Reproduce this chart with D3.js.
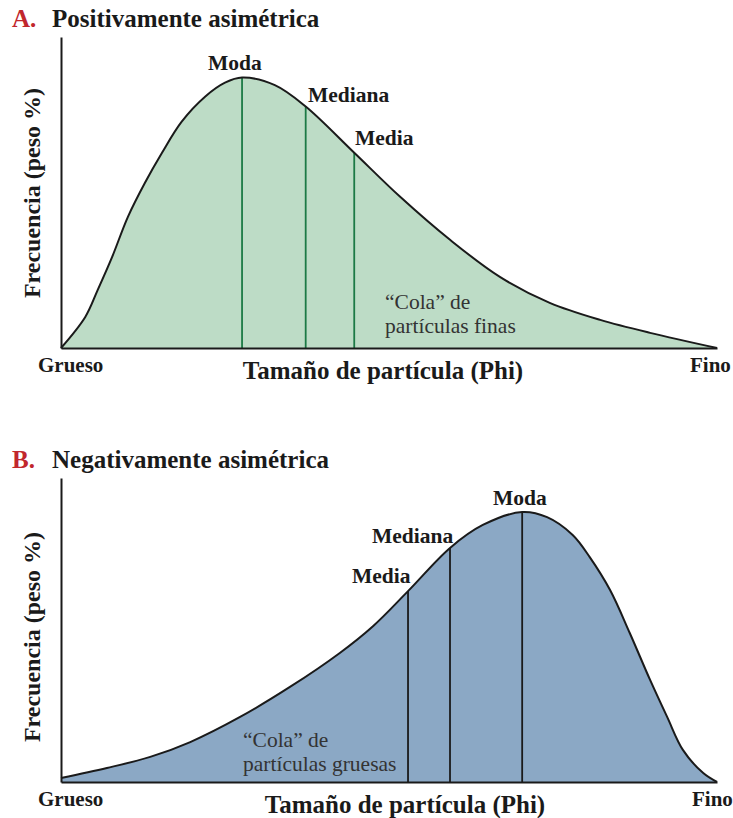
<!DOCTYPE html>
<html>
  <head>
    <title>Asimetria</title>
    <style>
      body { margin: 0; background: #fff; }
      text { font-family: "Liberation Serif", "Times New Roman", serif; }
      .bold { font-weight: bold; }
    </style>
    <script src="https://d3js.org/d3.v7.min.js"></script>
  </head>
  <body>
    <div id="chart"></div>
    <script type="text/javascript">
      // tamaño de particula (0 = grueso, 100 = fino) y frecuencia relativa (pico = 100)
      var posX = [0, 3.7, 5.6, 7.8, 10.2, 12.8, 15.4, 18.4, 22.0, 25.0, 27.6, 32.6, 37.3, 44.7, 51.7, 59.3, 66.9, 74.5, 82.2, 89.8, 100];
      var posY = [0, 11.5, 21.5, 33.7, 48.5, 61.1, 72.2, 83.7, 93.0, 98.1, 100, 97.2, 89.3, 72.2, 55.9, 40.0, 26.3, 16.7, 10.4, 5.6, 0];
      var negX = [0, 7.0, 13.6, 19.7, 27.3, 34.9, 42.5, 47.6, 52.9, 59.3, 64.3, 70.3, 74.1, 78.0, 80.6, 83.7, 86.7, 89.8, 92.4, 94.8, 97.9, 100];
      var negY = [1.5, 5.2, 9.3, 14.8, 24.1, 35.2, 47.8, 57.8, 70.7, 86.7, 95.2, 100, 98.1, 91.5, 83.3, 71.1, 55.2, 37.8, 24.1, 11.9, 3.3, 0];

      var measures = ["Moda", "Mediana", "Media"];
      var posMeasureX = [27.6, 37.3, 44.7];
      var posMeasureY = [100, 89.3, 72.2];
      var negMeasureX = [70.3, 59.3, 52.9];
      var negMeasureY = [100, 86.7, 70.7];

      var width = 733, height = 818;
      var svg = d3.select("#chart").append("svg")
        .attr("width", width)
        .attr("height", height);

      var x = d3.scaleLinear().domain([0, 100]).range([61, 717]);

      function panel(opts) {
        var y = d3.scaleLinear().domain([0, opts.yMax]).range([opts.base, opts.top]);
        var g = svg.append("g");
        var pts = opts.xs.map(function(v, i){ return [v, opts.ys[i]]; });
        var curve = d3.curveCatmullRom.alpha(0.5);

        var area = d3.area()
          .x(function(d){ return x(d[0]); })
          .y0(y(0))
          .y1(function(d){ return y(d[1]); })
          .curve(curve);
        var line = d3.line()
          .x(function(d){ return x(d[0]); })
          .y(function(d){ return y(d[1]); })
          .curve(curve);

        g.append("path").datum(pts).attr("d", area).attr("fill", opts.fill);

        g.selectAll(".measure")
          .data(measures)
          .enter()
          .append("line")
          .attr("class", "measure")
          .attr("x1", function(d, i){ return x(opts.mx[i]); })
          .attr("x2", function(d, i){ return x(opts.mx[i]); })
          .attr("y1", y(0))
          .attr("y2", function(d, i){ return y(opts.my[i]); })
          .attr("stroke", opts.lineColor)
          .attr("stroke-width", 1.8);

        g.append("path").datum(pts).attr("d", line)
          .attr("fill", "none").attr("stroke", "#1a1a1a").attr("stroke-width", 2);

        // ejes sin marcas
        g.append("g").attr("transform", "translate(0," + y(0) + ")")
          .call(d3.axisBottom(x).tickValues([]).tickSizeOuter(0))
          .select(".domain").attr("stroke", "#1a1a1a").attr("stroke-width", 2);
        g.append("g").attr("transform", "translate(" + x(0) + ",0)")
          .call(d3.axisLeft(y).tickValues([]).tickSizeOuter(0))
          .select(".domain").attr("stroke", "#1a1a1a").attr("stroke-width", 2);

        g.selectAll(".mlabel")
          .data(measures)
          .enter()
          .append("text")
          .attr("class", "mlabel bold")
          .attr("x", function(d, i){ return opts.labelPos[i][0]; })
          .attr("y", function(d, i){ return opts.labelPos[i][1]; })
          .attr("font-size", 21.5)
          .attr("fill", "#1a1a1a")
          .text(function(d){ return d; });

        // titulo
        var t = g.append("text").attr("class", "bold").attr("x", 12).attr("y", opts.titleY).attr("font-size", 25);
        t.append("tspan").attr("fill", "#c1272d").text(opts.letter);
        t.append("tspan").attr("fill", "#1a1a1a").attr("x", 52).text(opts.title);

        g.append("text").attr("class", "bold")
          .attr("transform", "translate(40," + opts.yLabelY + ") rotate(-90)")
          .attr("text-anchor", "middle").attr("font-size", 24).attr("fill", "#1a1a1a")
          .text("Frecuencia (peso %)");

        g.append("text").attr("class", "bold").attr("x", 38).attr("y", opts.base + 24)
          .attr("font-size", 21).attr("fill", "#1a1a1a").text("Grueso");
        g.append("text").attr("class", "bold").attr("x", opts.finoX).attr("y", opts.base + 24)
          .attr("font-size", 21).attr("fill", "#1a1a1a").text("Fino");
        g.append("text").attr("class", "bold").attr("x", opts.xLabelX).attr("y", opts.base + 31)
          .attr("text-anchor", "middle").attr("font-size", 25).attr("fill", "#1a1a1a")
          .text("Tamaño de partícula (Phi)");

        var tail = g.append("text").attr("font-size", 21.5).attr("fill", "#333");
        tail.append("tspan").attr("x", opts.tailPos[0]).attr("y", opts.tailPos[1]).text("\u201cCola\u201d de");
        tail.append("tspan").attr("x", opts.tailPos[0]).attr("y", opts.tailPos[1] + 24).text(opts.tail);
      }

      panel({
        xs: posX, ys: posY, mx: posMeasureX, my: posMeasureY,
        base: 348, top: 37, yMax: 115,
        fill: "#bddcc6", lineColor: "#1c7a45",
        letter: "A.", title: "Positivamente asimétrica", titleY: 27,
        yLabelY: 193, xLabelX: 383, finoX: 690,
        labelPos: [[208, 70], [308, 102], [355, 145]],
        tail: "partículas finas", tailPos: [385, 309]
      });

      panel({
        xs: negX, ys: negY, mx: negMeasureX, my: negMeasureY,
        base: 782, top: 478, yMax: 112.6,
        fill: "#8ba8c5", lineColor: "#1a1a1a",
        letter: "B.", title: "Negativamente asimétrica", titleY: 468,
        yLabelY: 637, xLabelX: 405, finoX: 692,
        labelPos: [[493, 505], [372, 543], [352, 583]],
        tail: "partículas gruesas", tailPos: [243, 747]
      });
    </script>
  </body>
</html>
